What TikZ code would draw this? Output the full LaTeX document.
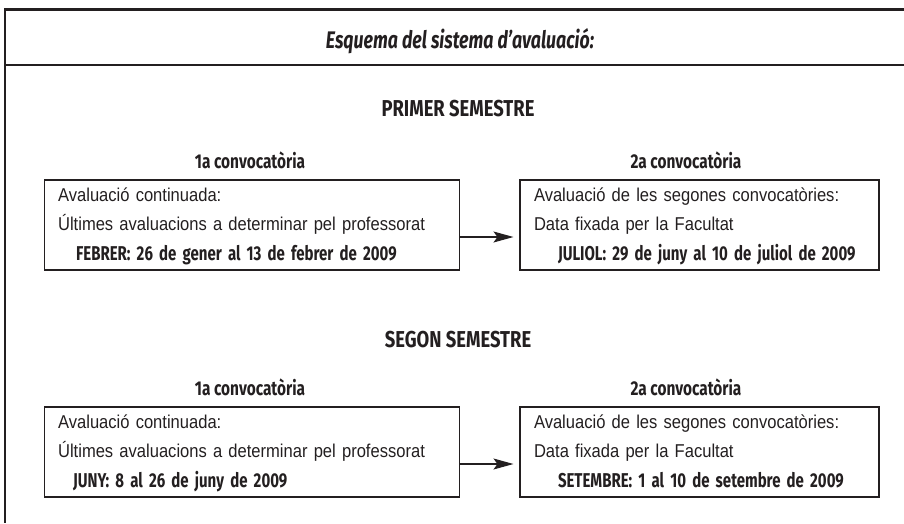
\documentclass[tikz,border=0pt]{standalone}
\usepackage{fontspec}
\setmainfont{Liberation Sans}[FakeStretch=0.89]
\newfontfamily\titlefam{Fira Sans}[FakeStretch=0.74]
\newfontfamily\headfam{Fira Sans}[FakeStretch=0.8]
\newfontfamily\subfam{Fira Sans}[FakeStretch=0.77]
\newfontfamily\boldfam{Fira Sans}[FakeStretch=0.75]
\usetikzlibrary{arrows.meta}
\definecolor{ink}{HTML}{231F20}
\begin{document}
\begin{tikzpicture}[x=1pt,y=-1pt,
  frame/.style={draw=ink,line width=2.4pt},
  titlefont/.style={anchor=base,inner sep=0pt,font={\titlefam\bfseries\itshape\fontsize{24}{28}\selectfont},text=ink},
  head/.style={anchor=base,inner sep=0pt,font={\headfam\bfseries\fontsize{23}{27}\selectfont},text=ink},
  sub/.style={anchor=base,inner sep=0pt,font={\subfam\bfseries\fontsize{20}{24}\selectfont},text=ink},
  boxbase/.style={draw=ink,line width=1.1pt,inner xsep=14pt,inner ysep=0pt,
     align=left,text=ink,font={\fontsize{18.6}{29.5}\selectfont}},
  boxL/.style={boxbase,text width=387pt,minimum width=415pt},
  boxR/.style={boxbase,text width=331pt,minimum width=359pt},
  arr/.style={draw=ink,line width=1.1pt,-{Stealth[length=20pt,width=11pt,inset=4pt]},shorten >=6pt}
]
\useasboundingbox (0,0) rectangle (904,523);
\newcommand{\bl}[1]{\mbox{\boldfam\bfseries\fontsize{20}{29.5}\selectfont #1}}
\newcommand{\tstrut}{\rule{0pt}{21pt}}
\newcommand{\bstrut}{\rule[-10pt]{0pt}{10pt}}
% frame
\draw[frame] (4,9.5) -- (904,9.5);
\draw[frame] (5,8.3) -- (5,523);
\draw[frame] (4,65) -- (904,65);
\node[titlefont] (title) at (460,48.3) {Esquema del sistema d’avaluació:};
% first semester
\node[head] (s1) at (458,116.7) {PRIMER SEMESTRE};
\node[sub] (c11) at (250,168.3) {1a convocatòria};
\node[sub] (c12) at (686,168.3) {2a convocatòria};
\node[boxL] (b1) at (251.6,225) {\tstrut Avaluació continuada:\\Últimes avaluacions a determinar pel professorat\\\hspace*{18pt}\bl{FEBRER: 26 de gener al 13 de febrer de 2009}\bstrut};
\node[boxR] (b2) at (699.5,225) {\tstrut Avaluació de les segones convocatòries:\\Data fixada per la Facultat\\\hspace*{24pt}\bl{JULIOL: 29 de juny al 10 de juliol de 2009}\bstrut};
\draw[arr] ([yshift=-12pt]b1.east) -- ([yshift=-12pt]b2.west);
% second semester
\node[head] (s2) at (458,347.3) {SEGON SEMESTRE};
\node[sub] (c21) at (250,395.3) {1a convocatòria};
\node[sub] (c22) at (686,395.3) {2a convocatòria};
\node[boxL] (b3) at (251.6,452) {\tstrut Avaluació continuada:\\Últimes avaluacions a determinar pel professorat\\\hspace*{15pt}\bl{JUNY: 8 al 26 de juny de 2009}\bstrut};
\node[boxR] (b4) at (699.5,452) {\tstrut Avaluació de les segones convocatòries:\\Data fixada per la Facultat\\\hspace*{24pt}\bl{SETEMBRE: 1 al 10 de setembre de 2009}\bstrut};
\draw[arr] ([yshift=-12pt]b3.east) -- ([yshift=-12pt]b4.west);
\end{tikzpicture}
\end{document}
